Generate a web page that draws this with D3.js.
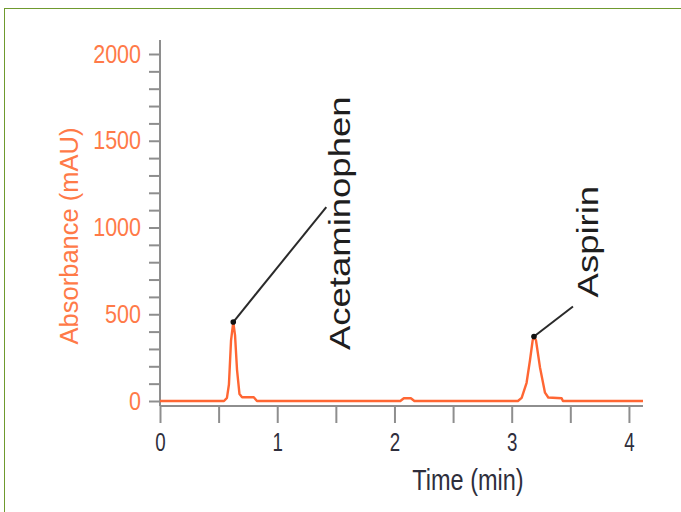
<!DOCTYPE html>
<html>
<head>
<meta charset="utf-8">
<script src="https://cdn.jsdelivr.net/npm/d3@7"></script>
<style>
  body { margin: 0; background: #fff; }
  svg { display: block; }
</style>
</head>
<body>
<div id="chart"></div>
<script>
// chromatogram trace (time in min, absorbance in mAU)
const times  = [0, 0.546, 0.571, 0.588, 0.606, 0.625, 0.640, 0.657, 0.678, 0.700, 0.800, 0.827,
                2.05, 2.08, 2.14, 2.17,
                3.053, 3.085, 3.127, 3.156, 3.179, 3.190, 3.207, 3.241, 3.284, 3.312, 3.426, 3.437, 4.12];
const values = [0, 0, 18, 95, 350, 455, 380, 180, 40, 22, 22, 0,
                0, 16, 16, 0,
                0, 18, 105, 235, 350, 372, 350, 195, 48, 20, 16, 0, 0];

// labelled peaks
const peakNames  = ["Acetaminophen", "Aspirin"];
const peakTimes  = [0.625, 3.19];
const peakValues = [455, 372];

const yTicks = d3.range(0, 2001, 100);
const xTicks = d3.range(0, 4.01, 0.5);

const W = 681, H = 512;
const svg = d3.select("#chart").append("svg")
    .attr("width", W)
    .attr("height", H);

// squeeze text horizontally (the original uses a condensed face)
function condense(sel, f) {
    sel.each(function() {
        const len = this.getComputedTextLength();
        if (len > 0) {
            d3.select(this).attr("textLength", len * f).attr("lengthAdjust", "spacingAndGlyphs");
        }
    });
}

// green frame (only top/left edges are visible)
svg.append("rect")
    .attr("x", 4.5).attr("y", 8.5)
    .attr("width", 720).attr("height", 600)
    .attr("fill", "none")
    .attr("stroke", "#6f9a2e")
    .attr("stroke-width", 1);

const x = d3.scaleLinear().domain([0, 4.12]).range([160, 643]);
const y = d3.scaleLinear().domain([0, 2000]).range([401, 54]);

const axisGray = "#8e8e8e";
const orange = "#ff7a48";
const font = "'Liberation Sans', Arial, sans-serif";

// y axis
const yAxisG = svg.append("g")
    .attr("transform", `translate(${x(0)},0)`)
    .call(d3.axisLeft(y).tickValues(yTicks).tickSize(11).tickPadding(8)
        .tickFormat(d => d % 500 === 0 ? d : ""));
yAxisG.select(".domain").remove();
yAxisG.selectAll(".tick line").attr("stroke", axisGray).attr("stroke-width", 2);
yAxisG.selectAll(".tick text")
    .attr("fill", orange)
    .style("font-family", font)
    .style("font-size", "25px")
    .call(condense, 0.86);

const xAxisY = y(0) + 5;

svg.append("line")
    .attr("x1", x(0)).attr("x2", x(0))
    .attr("y1", y(2080)).attr("y2", xAxisY)
    .attr("stroke", axisGray).attr("stroke-width", 2);

// x axis
const xAxisG = svg.append("g")
    .attr("transform", `translate(0,${xAxisY})`)
    .call(d3.axisBottom(x).tickValues(xTicks).tickSize(17).tickPadding(10)
        .tickFormat(d => Number.isInteger(d) ? d : ""));
xAxisG.select(".domain").remove();
xAxisG.append("line")
    .attr("x1", x(0)).attr("x2", x(4.12))
    .attr("stroke", axisGray).attr("stroke-width", 2);
xAxisG.selectAll(".tick line").attr("stroke", axisGray).attr("stroke-width", 2);
xAxisG.selectAll(".tick text")
    .attr("fill", "#2e2e3c")
    .style("font-family", font)
    .style("font-size", "26px")
    .call(condense, 0.72);

// axis titles
svg.append("text")
    .attr("transform", `translate(78,236) rotate(-90)`)
    .attr("text-anchor", "middle")
    .attr("fill", orange)
    .style("font-family", font)
    .style("font-size", "25.5px")
    .text("Absorbance (mAU)");

svg.append("text")
    .attr("x", 468).attr("y", 490)
    .attr("text-anchor", "middle")
    .attr("fill", "#2e2e3c")
    .style("font-family", font)
    .style("font-size", "29px")
    .text("Time (min)")
    .call(condense, 0.81);

// trace
const trace = times.map((t, i) => [t, values[i]]);
svg.append("path")
    .datum(trace)
    .attr("fill", "none")
    .attr("stroke", "#ff6633")
    .attr("stroke-width", 2.4)
    .attr("stroke-linejoin", "round")
    .attr("d", d3.line().x(d => x(d[0])).y(d => y(d[1])));

// peak annotations: leader line end and label origin, offset from the peak dot
const labelLayout = [
    { lx: 93, ly: -115, tx: 117, ty: 28 },
    { lx: 39, ly: -30, tx: 64, ty: -39 }
];

peakNames.forEach((name, i) => {
    const px = x(peakTimes[i]), py = y(peakValues[i]);
    const o = labelLayout[i];
    svg.append("line")
        .attr("x1", px).attr("y1", py)
        .attr("x2", px + o.lx).attr("y2", py + o.ly)
        .attr("stroke", "#2a2a2a").attr("stroke-width", 2);
    svg.append("circle")
        .attr("cx", px).attr("cy", py).attr("r", 2.8)
        .attr("fill", "#111");
    svg.append("text")
        .attr("transform", `translate(${px + o.tx},${py + o.ty}) scale(0.8,1) rotate(-90)`)
        .attr("fill", "#1e1e1e")
        .style("font-family", font)
        .style("font-size", "36.5px")
        .text(name);
});
</script>
</body>
</html>
